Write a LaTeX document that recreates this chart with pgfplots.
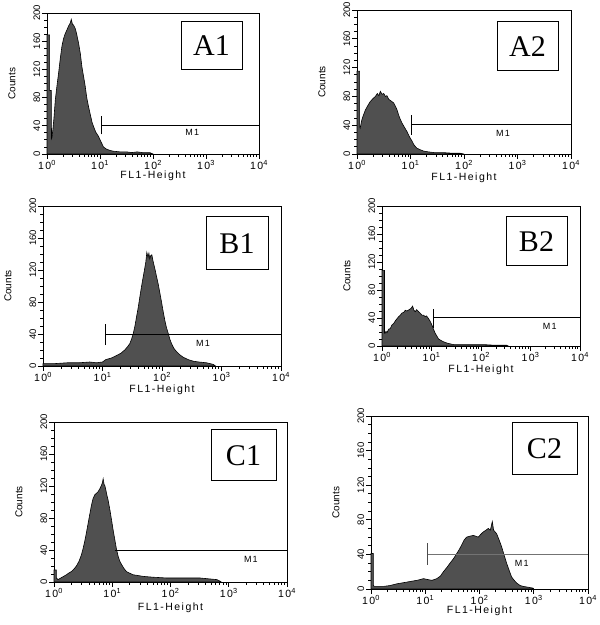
\documentclass[border=0pt]{standalone}
\usepackage{pgfplots}
\pgfplotsset{compat=1.18}
\usepackage{fontspec}
\setmainfont{Liberation Sans}
\newfontfamily\seriffont{Liberation Serif}
\newfontfamily\spacedfont[LetterSpace=14]{Liberation Sans}
\definecolor{histfill}{RGB}{80,80,80}
\newcommand{\tickx}{\spacedfont\fontsize{10.5}{12}\selectfont}
\newcommand{\ticky}{\fontsize{9.5}{10}\selectfont}
\newcommand{\labx}{\spacedfont\fontsize{10.5}{12}\selectfont}
\newcommand{\laby}{\fontsize{10}{11}\selectfont}
\newcommand{\boxfont}{\seriffont\fontsize{30}{30}\selectfont}
\pgfplotsset{
  facs/.style={
    scale only axis, anchor=south west, clip=false,
    /pgf/number format/assume math mode=true,
    xmin=0, xmax=4, ymin=0, ymax=200,
    axis line style={line width=0.9pt},
    tick align=outside, xtick pos=bottom, ytick pos=left,
    xtick={0,1,2,3,4},
    xticklabels={10\textsuperscript{0},10\textsuperscript{1},10\textsuperscript{2},10\textsuperscript{3},10\textsuperscript{4}},
    minor xtick={0.30103,0.47712,0.60206,0.69897,0.77815,0.8451,0.90309,0.95424,
      1.30103,1.47712,1.60206,1.69897,1.77815,1.8451,1.90309,1.95424,
      2.30103,2.47712,2.60206,2.69897,2.77815,2.8451,2.90309,2.95424,
      3.30103,3.47712,3.60206,3.69897,3.77815,3.8451,3.90309,3.95424},
    ytick={0,40,80,120,160,200},
    minor y tick num=3,
    major tick length=5pt, minor tick length=3pt,
    every tick/.style={black, line width=0.8pt},
    xticklabel style={font=\tickx, inner sep=1pt},
    yticklabel style={font=\ticky, rotate=90, anchor=south, inner sep=1.5pt},
    xlabel={FL1-Height}, ylabel={Counts},
    every axis y label/.style={at={([xshift=-35pt]axis description cs:0,0.5)}, anchor=center, rotate=90, font=\laby},
  },
  xlab/.style={every axis x label/.style={at={([yshift=-#1]axis description cs:0.5,0)}, anchor=center, font=\labx}},
  hist/.style={fill=histfill, draw=black, line width=0.6pt},
  mone/.style={black, line width=0.8pt},
}
\begin{document}
\begin{tikzpicture}[x=1pt,y=1pt]
\useasboundingbox (0,0) rectangle (600,625);
% ---------------- A1
\begin{axis}[facs, xlab=22pt, at={(47pt,471pt)}, width=212pt, height=141pt]
\addplot[hist] coordinates {(0,0)(0,169)(0.05,169)(0.05,90)(0.08,90)(0.085,22)(0.095,24)(0.11,34)(0.13,50)(0.157,77)(0.19,98)(0.219,115)(0.25,135)(0.282,153)(0.31,163)(0.34,170)(0.376,176)(0.41,182)(0.44,186)(0.458,191)(0.48,184)(0.50,183)(0.533,178)(0.56,170)(0.596,157)(0.63,142)(0.658,124)(0.69,110)(0.721,96)(0.75,80)(0.784,67)(0.82,55)(0.85,45)(0.878,39)(0.92,31)(0.972,25)(1.02,17)(1.066,10)(1.12,7)(1.19,5)(1.25,4)(1.38,3)(1.5,3)(1.6,2)(1.7,3)(1.8,2)(1.94,2)(2.0,0)} \closedcycle;
\addplot[mone] coordinates {(1.02,41)(4,41)};
\addplot[mone] coordinates {(1.02,28)(1.02,54)};
\node[font=\spacedfont\fontsize{9}{10}\selectfont] at (axis cs:2.74,30) {M1};
\end{axis}
% ---------------- A2
\begin{axis}[facs, xlab=24pt, at={(357pt,471pt)}, width=214pt, height=144pt]
\addplot[hist] coordinates {(0,0)(0,115)(0.05,115)(0.05,38)(0.06,36)(0.075,42)(0.093,48)(0.125,55)(0.156,61)(0.2,67)(0.249,73)(0.3,77)(0.343,80)(0.38,84)(0.41,81)(0.436,87)(0.47,83)(0.5,84)(0.53,80)(0.56,81)(0.592,76)(0.63,74)(0.685,71)(0.72,66)(0.75,61)(0.779,54)(0.81,48)(0.841,43)(0.88,38)(0.935,31)(0.98,24)(1.028,18)(1.07,12)(1.121,8)(1.18,6)(1.246,4)(1.33,3)(1.433,2)(1.6,2)(1.8,1)(1.93,1)(2.0,0)} \closedcycle;
\addplot[mone] coordinates {(1.015,41)(4,41)};
\addplot[mone] coordinates {(1.015,27)(1.015,54)};
\node[font=\spacedfont\fontsize{9}{10}\selectfont] at (axis cs:2.73,29) {M1};
\end{axis}
% ---------------- B1
\begin{axis}[facs, xlab=24pt, at={(43pt,259pt)}, width=238pt, height=160pt]
\addplot[hist] coordinates {(0,0)(0,3)(0.2,3)(0.4,4)(0.6,4)(0.785,5)(0.9,4)(1.0,5)(1.055,8)(1.15,10)(1.234,13)(1.31,16)(1.374,20)(1.42,24)(1.459,28)(1.49,34)(1.515,40)(1.545,50)(1.571,61)(1.6,73)(1.627,86)(1.655,99)(1.683,111)(1.705,120)(1.728,130)(1.745,142)(1.765,136)(1.78,141)(1.795,134)(1.81,138)(1.829,139)(1.85,131)(1.879,122)(1.905,113)(1.935,103)(1.965,91)(1.992,80)(2.02,68)(2.048,57)(2.075,48)(2.104,41)(2.13,34)(2.16,28)(2.2,22)(2.244,18)(2.3,14)(2.356,11)(2.44,8)(2.525,6)(2.62,5)(2.749,4)(2.861,2)(2.9,0)} \closedcycle;
\addplot[mone] coordinates {(1.055,40)(4,40)};
\addplot[mone] coordinates {(1.055,26)(1.055,53)};
\node[font=\spacedfont\fontsize{9}{10}\selectfont] at (axis cs:2.69,28) {M1};
\end{axis}
% ---------------- B2
\begin{axis}[facs, xlab=24pt, at={(382pt,279pt)}, width=198pt, height=140pt]
\addplot[hist] coordinates {(0,0)(0,108)(0.05,108)(0.05,18)(0.06,18)(0.08,21)(0.1,19)(0.135,24)(0.168,25)(0.2,30)(0.235,32)(0.27,36)(0.303,39)(0.337,42)(0.37,44)(0.4,47)(0.437,48)(0.47,51)(0.504,50)(0.55,52)(0.59,54)(0.618,57)(0.645,51)(0.672,49)(0.7,52)(0.739,49)(0.77,47)(0.807,44)(0.84,44)(0.874,42)(0.9,43)(0.941,39)(0.975,35)(1.008,30)(1.04,24)(1.076,18)(1.11,14)(1.143,10)(1.19,8)(1.244,6)(1.32,4)(1.445,2)(1.7,2)(2.05,2)(2.3,1)(2.52,1)(2.55,0)} \closedcycle;
\addplot[mone] coordinates {(1.03,41)(4,41)};
\addplot[mone] coordinates {(1.03,25)(1.03,53)};
\node[font=\spacedfont\fontsize{9}{10}\selectfont] at (axis cs:3.39,28) {M1};
\end{axis}
% ---------------- C1
\begin{axis}[facs, xlab=26pt, at={(54pt,43pt)}, width=233pt, height=160pt]
\addplot[hist] coordinates {(0,0)(0,15)(0.04,15)(0.04,5)(0.069,3)(0.14,6)(0.212,9)(0.25,11)(0.298,13)(0.34,16)(0.385,20)(0.43,26)(0.471,34)(0.5,42)(0.528,51)(0.555,61)(0.585,73)(0.615,85)(0.643,96)(0.67,104)(0.7,109)(0.73,111)(0.758,113)(0.79,117)(0.815,121)(0.83,124)(0.844,129)(0.86,122)(0.875,120)(0.89,115)(0.91,108)(0.93,102)(0.96,90)(0.987,78)(1.015,65)(1.044,53)(1.07,42)(1.102,32)(1.13,26)(1.159,22)(1.2,17)(1.245,13)(1.3,11)(1.36,9)(1.45,8)(1.532,7)(1.7,6)(1.934,5)(2.2,5)(2.508,5)(2.65,4)(2.795,3)(2.852,1)(2.87,0)} \closedcycle;
\addplot[mone] coordinates {(1.044,40)(4,40)};
\node[font=\spacedfont\fontsize{9}{10}\selectfont] at (axis cs:3.38,28) {M1};
\end{axis}
% ---------------- C2
\begin{axis}[facs, xlab=22pt, at={(371pt,36pt)}, width=217pt, height=173pt]
\addplot[hist] coordinates {(0,0)(0,41)(0.045,41)(0.045,4)(0.06,3)(0.15,3)(0.233,3)(0.35,4)(0.478,6)(0.57,7)(0.662,8)(0.75,9)(0.845,10)(0.91,11)(0.968,12)(1.04,11)(1.121,10)(1.17,11)(1.213,12)(1.28,15)(1.335,20)(1.4,25)(1.458,30)(1.52,35)(1.581,41)(1.63,46)(1.672,51)(1.72,57)(1.764,60)(1.82,61)(1.887,62)(1.93,61)(1.979,60)(2.02,63)(2.07,66)(2.12,68)(2.162,70)(2.2,68)(2.236,78)(2.26,68)(2.315,64)(2.36,57)(2.407,49)(2.45,40)(2.499,30)(2.55,21)(2.591,14)(2.64,10)(2.683,7)(2.75,4)(2.806,3)(2.9,2)(2.989,1)(3.0,0)} \closedcycle;
\addplot[black!55, line width=0.7pt] coordinates {(1.041,40)(4,40)};
\addplot[black!70, line width=0.8pt] coordinates {(1.041,28)(1.041,53)};
\node[font=\spacedfont\fontsize{9}{10}\selectfont] at (axis cs:2.78,30) {M1};
\end{axis}
% ---------------- panel tags
\node[draw, line width=1pt, minimum width=61pt, minimum height=48pt, inner sep=0pt, font=\boxfont] at (211.5,579) {A1};
\node[draw, line width=1pt, minimum width=61pt, minimum height=49pt, inner sep=0pt, font=\boxfont] at (527.5,578.5) {A2};
\node[draw, line width=1pt, minimum width=62pt, minimum height=53pt, inner sep=0pt, font=\boxfont] at (237,381.5) {B1};
\node[draw, line width=1pt, minimum width=61pt, minimum height=49pt, inner sep=0pt, font=\boxfont] at (536.5,383.5) {B2};
\node[draw, line width=1pt, minimum width=65pt, minimum height=51pt, inner sep=0pt, font=\boxfont] at (243.5,169.5) {C1};
\node[draw, line width=1pt, minimum width=65pt, minimum height=52pt, inner sep=0pt, font=\boxfont] at (544.5,176) {C2};
\end{tikzpicture}
\end{document}
